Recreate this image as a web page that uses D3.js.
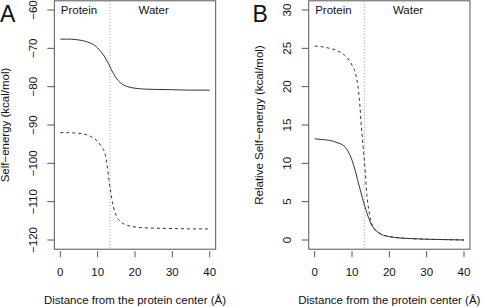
<!DOCTYPE html>
<html>
<head>
<meta charset="utf-8">
<script src="https://cdn.jsdelivr.net/npm/d3@7"></script>
<style>
body { margin: 0; background: #fff; }
svg text { font-family: "Liberation Sans", Arial, sans-serif; fill: #111; }
</style>
</head>
<body>
<svg width="483" height="307"></svg>
<script>
// distance from protein center (A)
const dist = [0, 2, 4, 6, 8, 9, 10, 11, 12, 12.5, 13, 13.5, 14, 14.5, 15, 16, 17, 18, 20, 22, 25, 30, 35, 40]

// panel A: self-energy
const selfSolid = [-67.6, -67.6, -67.7, -68.0, -68.6, -69.1, -69.9, -71.0, -72.4, -73.3, -74.2, -75.2, -76.2, -77.0, -77.8, -78.9, -79.6, -80.0, -80.4, -80.6, -80.7, -80.8, -80.9, -80.9]
const selfDashed = [-92.0, -92.0, -92.1, -92.3, -92.9, -93.5, -94.3, -95.6, -97.6, -100.3, -104.2, -107.5, -110.4, -112.3, -113.7, -115.1, -115.8, -116.2, -116.6, -116.8, -116.9, -117.0, -117.1, -117.1]

// panel B: relative self-energy
const relSolid = [13.2, 13.1, 13.0, 12.7, 12.2, 11.5, 10.4, 8.8, 6.9, 6.0, 5.1, 4.3, 3.5, 2.8, 2.2, 1.4, 1.0, 0.7, 0.45, 0.3, 0.2, 0.1, 0.05, 0.0]
const relDashed = [25.3, 25.2, 25.0, 24.7, 24.1, 23.6, 22.8, 21.6, 18.2, 14.8, 12.0, 9.2, 5.8, 3.9, 2.6, 1.5, 1.0, 0.7, 0.45, 0.3, 0.2, 0.1, 0.05, 0.0]

const xTicks = [0, 10, 20, 30, 40]
const yTicksA = [-120, -110, -100, -90, -80, -70, -60]
const yTicksB = [0, 5, 10, 15, 20, 25, 30]
const boundary = 13.3

const svg = d3.select("svg")

const panels = [
	{letter: "A", left: 60.3, right: 209.7, ylim: [-120, -60], yticks: yTicksA,
	 ytitle: "Self\u2212energy (kcal/mol)", solid: selfSolid, dashed: selfDashed,
	 letterX: 0, tickLabX: 37, titleX: 9},
	{letter: "B", left: 314.7, right: 464, ylim: [0, 30], yticks: yTicksB,
	 ytitle: "Relative Self\u2212energy (kcal/mol)", solid: relSolid, dashed: relDashed,
	 letterX: 252.5, tickLabX: 291, titleX: 263}
]

panels.forEach(p => {
	const x = d3.scaleLinear().domain([0, 40]).range([p.left, p.right])
	const y = d3.scaleLinear().domain(p.ylim).range([240, 10])
	const span = p.ylim[1] - p.ylim[0]
	const x0 = x(-1.6), x1 = x(41.6)
	const y0 = y(p.ylim[0] - 0.04 * span), y1 = y(p.ylim[1] + 0.04 * span)

	const g = svg.append("g")

	// box
	g.append("rect")
		.attr("x", x0).attr("y", y1)
		.attr("width", x1 - x0).attr("height", y0 - y1)
		.attr("fill", "none").attr("stroke", "#555").attr("stroke-width", 1)

	// y ticks
	g.selectAll(".yt").data(p.yticks).enter().append("line")
		.attr("x1", x0 - 7).attr("x2", x0)
		.attr("y1", d => y(d)).attr("y2", d => y(d))
		.attr("stroke", "#555")
	g.selectAll(".yl").data(p.yticks).enter().append("text")
		.attr("transform", d => `translate(${p.tickLabX},${y(d)}) rotate(-90)`)
		.attr("text-anchor", "middle")
		.attr("font-size", 11.5)
		.text(d => d < 0 ? "\u2212" + Math.abs(d) : d)

	// x ticks
	g.selectAll(".xt").data(xTicks).enter().append("line")
		.attr("x1", d => x(d)).attr("x2", d => x(d))
		.attr("y1", y0 + 2).attr("y2", y0 + 8)
		.attr("stroke", "#555")
	g.selectAll(".xl").data(xTicks).enter().append("text")
		.attr("x", d => x(d)).attr("y", 276)
		.attr("text-anchor", "middle")
		.attr("font-size", 11.5)
		.text(d => d)

	// axis titles
	g.append("text")
		.attr("x", (x0 + x1) / 2).attr("y", 304)
		.attr("text-anchor", "middle").attr("font-size", 11.5)
		.text("Distance from the protein center (\u00c5)")
	g.append("text")
		.attr("transform", `translate(${p.titleX},125) rotate(-90)`)
		.attr("text-anchor", "middle").attr("font-size", 11.5)
		.text(p.ytitle)

	// panel letter
	g.append("text")
		.attr("x", p.letterX).attr("y", 21.5)
		.attr("font-size", 23)
		.text(p.letter)

	// region labels
	g.append("text").attr("x", x(5)).attr("y", 14)
		.attr("text-anchor", "middle").attr("font-size", 11.5).text("Protein")
	g.append("text").attr("x", x(25)).attr("y", 14)
		.attr("text-anchor", "middle").attr("font-size", 11.5).text("Water")

	// boundary line
	g.append("line")
		.attr("x1", x(boundary)).attr("x2", x(boundary))
		.attr("y1", y1).attr("y2", y0)
		.attr("stroke", "#999").attr("stroke-dasharray", "1,2")

	const line = d3.line()
		.x((d, i) => x(dist[i]))
		.y(d => y(d))
		.curve(d3.curveMonotoneX)

	g.append("path")
		.attr("d", line(p.solid))
		.attr("fill", "none").attr("stroke", "#333").attr("stroke-width", 1)
	g.append("path")
		.attr("d", line(p.dashed))
		.attr("fill", "none").attr("stroke", "#333").attr("stroke-width", 1)
		.attr("stroke-dasharray", "3,3")
})
</script>
</body>
</html>
